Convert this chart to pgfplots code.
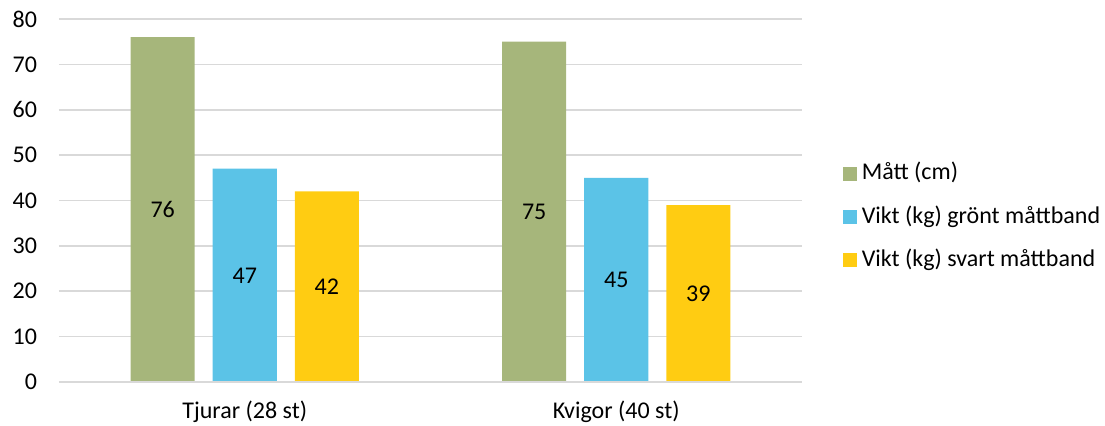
\documentclass[border=0pt]{standalone}
\usepackage{fontspec}
\setmainfont{Carlito}
\usepackage{pgfplots}
\pgfplotsset{compat=1.18}

\definecolor{cgreen}{HTML}{A6B67B}
\definecolor{cblue}{HTML}{5BC3E7}
\definecolor{cyellow}{HTML}{FFCC12}
\definecolor{cgrid}{HTML}{D9D9D9}

\begin{document}
\begin{tikzpicture}[x=0.75pt,y=0.75pt]
\begin{axis}[
  scale only axis,
  width=557.25pt, height=272.25pt,
  ymin=0, ymax=80, ytick={0,10,...,80},
  xmin=-0.5, xmax=1.5,
  xtick={0,1}, xticklabels={Tjurar (28 st), Kvigor (40 st)},
  ybar=13.5pt, bar width=0.1725,
  axis line style={draw=none},
  major tick length=0pt,
  ymajorgrids, grid style={cgrid, line width=1.2pt},
  tick label style={font=\fontsize{18pt}{21pt}\selectfont, text=black},
  /pgf/number format/assume math mode=true,
  yticklabel style={xshift=-13pt},
  xticklabel style={yshift=-11pt},
  nodes near coords,
  visualization depends on=rawy \as \rawy,
  every node near coord/.append style={font=\fontsize{18pt}{21pt}\selectfont, text=black, anchor=center, shift={(axis direction cs:0,-\rawy/2)}},
  legend style={at={(rel axis cs:1.055,0.4545)}, anchor=west, draw=none, fill=none,
    font=\fontsize{18pt}{21pt}\selectfont, row sep=11.5pt, inner sep=0pt,
    nodes={text height=13pt, text depth=4pt, inner xsep=3.5pt},
    legend cell align=left},
  legend image code/.code={\fill[#1] (0pt,-5.2pt) rectangle (10.5pt,5.3pt);},
  clip=false,
]
\addplot[fill=cgreen, draw=none] coordinates {(0,76) (1,75)};
\addplot[fill=cblue, draw=none] coordinates {(0,47) (1,45)};
\addplot[fill=cyellow, draw=none] coordinates {(0,42) (1,39)};
\draw[cgrid, line width=1.2pt] (rel axis cs:0,0) -- (rel axis cs:1,0);
\legend{Mått (cm), Vikt (kg) grönt måttband, Vikt (kg) svart måttband}
\end{axis}
\pgfresetboundingbox
\path (current axis.south west) ++(-59,-43) rectangle ++(1105,425);
\end{tikzpicture}
\end{document}
